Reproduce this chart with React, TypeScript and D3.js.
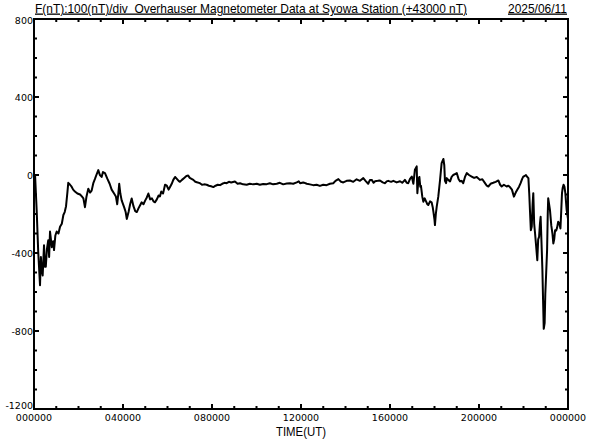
import { useRef, useEffect } from 'react'
import * as d3 from 'd3'

// F(nT) minus 43000, time in hours UT
const hours = [
  0.00, 0.05, 0.12, 0.19, 0.27, 0.31, 0.34, 0.39, 0.45, 0.49, 0.53, 0.58, 0.64, 0.68, 0.72, 0.80, 0.86, 0.90, 0.96, 1.02,
  1.10, 1.17, 1.25, 1.32, 1.38, 1.44, 1.50, 1.54, 1.62, 1.69, 1.76, 1.84, 1.95, 2.07, 2.15, 2.22, 2.29, 2.36, 2.44, 2.52,
  2.59, 2.67, 2.74, 2.82, 2.89, 2.96, 3.04, 3.10, 3.19, 3.30, 3.40, 3.49, 3.60, 3.68, 3.74, 3.79, 3.83, 3.88, 3.94, 4.05,
  4.12, 4.17, 4.25, 4.32, 4.39, 4.47, 4.55, 4.62, 4.70, 4.77, 4.84, 4.92, 5.00, 5.07, 5.14, 5.22, 5.30, 5.37, 5.44, 5.52,
  5.60, 5.66, 5.72, 5.80, 5.89, 5.97, 6.05, 6.12, 6.19, 6.26, 6.34, 6.42, 6.50, 6.56, 6.65, 6.75, 6.85, 6.93, 7.00, 7.08,
  7.16, 7.25, 7.35, 7.46, 7.55, 7.65, 7.76, 7.86, 7.96, 8.06, 8.16, 8.26, 8.36, 8.46, 8.56, 8.66, 8.76, 8.86, 9.03, 9.15,
  9.26, 9.40, 9.56, 9.70, 9.85, 10.01, 10.15, 10.30, 10.46, 10.60, 10.75, 10.91, 11.05, 11.20, 11.36, 11.50, 11.65, 11.81, 11.90, 11.96,
  12.10, 12.26, 12.40, 12.55, 12.70, 12.85, 13.00, 13.15, 13.30, 13.45, 13.55, 13.68, 13.80, 13.90, 14.05, 14.20, 14.35, 14.50, 14.65, 14.80,
  14.90, 15.02, 15.10, 15.18, 15.26, 15.33, 15.45, 15.55, 15.67, 15.78, 15.85, 15.92, 16.05, 16.15, 16.30, 16.45, 16.55, 16.67, 16.75, 16.82,
  16.90, 16.98, 17.05, 17.12, 17.20, 17.23, 17.28, 17.32, 17.36, 17.39, 17.45, 17.50, 17.56, 17.62, 17.68, 17.72, 17.80, 17.87, 17.92, 17.95,
  18.00, 18.02, 18.06, 18.10, 18.17, 18.25, 18.32, 18.40, 18.44, 18.47, 18.52, 18.55, 18.62, 18.70, 18.77, 18.84, 18.92, 19.00, 19.08, 19.15,
  19.22, 19.29, 19.37, 19.45, 19.55, 19.67, 19.78, 19.90, 20.04, 20.15, 20.27, 20.35, 20.42, 20.52, 20.64, 20.75, 20.87, 20.95, 21.02, 21.12,
  21.24, 21.32, 21.39, 21.48, 21.57, 21.65, 21.72, 21.80, 21.87, 21.94, 21.99, 22.05, 22.11, 22.17, 22.22, 22.26, 22.29, 22.33, 22.37, 22.41,
  22.44, 22.48, 22.52, 22.57, 22.62, 22.66, 22.70, 22.74, 22.77, 22.81, 22.85, 22.88, 22.91, 22.95, 22.98, 23.02, 23.06, 23.09, 23.11, 23.15,
  23.19, 23.25, 23.30, 23.34, 23.38, 23.42, 23.47, 23.51, 23.56, 23.61, 23.66, 23.69, 23.73, 23.76, 23.80, 23.84, 23.88, 23.94, 24.00,
]
const fieldNT = [
  0, -5, -180, -395, -565, -420, -480, -515, -360, -470, -470, -380, -335, -420, -290, -370, -340, -385, -310, -290,
  -300, -265, -250, -205, -190, -160, -90, -40, -50, -60, -75, -85, -95, -100, -110, -120, -165, -110, -70, -90,
  -80, -40, -20, 5, 25, 0, -10, 15, 10, -20, -45, -75, -95, -110, -150, -95, -45, -95, -130, -165,
  -190, -225, -190, -150, -120, -160, -185, -190, -170, -155, -140, -150, -130, -115, -95, -125, -120, -135, -140, -125,
  -105, -110, -85, -95, -50, -55, -75, -60, -45, -25, -10, -20, -30, -35, -25, -15, -5, -3, -15, -20,
  -25, -35, -38, -42, -50, -48, -50, -55, -58, -62, -55, -50, -52, -45, -40, -42, -35, -38, -33, -45,
  -42, -48, -50, -45, -48, -45, -50, -46, -47, -42, -48, -45, -40, -48, -44, -42, -45, -38, -32, -42,
  -38, -45, -48, -52, -50, -56, -50, -52, -45, -42, -30, -21, -35, -38, -30, -28, -35, -22, -30, -16,
  -30, -45, -25, -25, -40, -32, -30, -28, -38, -42, -33, -30, -35, -30, -38, -32, -40, -25, -40, -42,
  -20, -8, -45, 27, 44, -93, -20, -10, -60, -55, -110, -137, -120, -135, -150, -154, -135, -140, -165, -188,
  -230, -257, -200, -162, -111, -25, 61, 82, 50, -30, -42, -16, -25, -33, -10, 0, 5, 10, -20, -33,
  -30, -42, -10, 10, 0, -8, -15, -10, -25, -22, -42, -55, -59, -45, -40, -35, -28, -50, -59, -50,
  -59, -55, -62, -75, -111, -90, -76, -60, -42, -20, -8, -5, 0, -10, -16, -100, -180, -283, -265, -150,
  -93, -250, -300, -368, -437, -330, -317, -248, -214, -350, -489, -643, -789, -760, -609, -500, -386, -200, -119, -150,
  -180, -260, -300, -351, -330, -283, -285, -270, -240, -248, -274, -200, -93, -67, -50, -60, -93, -180, -225,
]

const yTickValues = [800, 400, 0, -400, -800, -1200]
const xTickValues = [0, 4, 8, 12, 16, 20, 24]
const xTickLabels = ['000000', '040000', '080000', '120000', '160000', '200000', '000000']
const titleText = 'F(nT):100(nT)/div  Overhauser Magnetometer Data at Syowa Station (+43000 nT)'
const dateText = '2025/06/11'
const xTitle = 'TIME(UT)'

export default function App() {
  const svgRef = useRef<SVGSVGElement>(null)

  useEffect(() => {
    const w = 592
    const h = 440
    const svg = d3.select(svgRef.current)
      .attr('width', w)
      .attr('height', h)
    svg.selectAll('*').remove()

    svg.append('rect').attr('width', w).attr('height', h).attr('fill', '#fff')

    // scaling
    const xScale = d3.scaleLinear().domain([0, 24]).range([34, 568])
    const yScale = d3.scaleLinear().domain([-1200, 800]).range([409, 19])
    const [x0, x1] = xScale.range()
    const [yb, yt] = yScale.range()

    const minorX = d3.range(0, 25, 1)
    const minorY = d3.range(-1200, 801, 100)

    // frame
    svg.append('rect')
      .attr('x', x0).attr('y', yt)
      .attr('width', x1 - x0).attr('height', yb - yt)
      .attr('fill', 'none').attr('stroke', '#000').attr('stroke-width', 2)

    // ticks: every side inward, long at labelled values
    const tickG = svg.append('g').attr('stroke', '#000').attr('stroke-width', 2)
    minorX.forEach(t => {
      const len = t % 4 === 0 ? 5 : 3
      const px = xScale(t)
      tickG.append('line').attr('x1', px).attr('x2', px).attr('y1', yb).attr('y2', yb - len)
      tickG.append('line').attr('x1', px).attr('x2', px).attr('y1', yt).attr('y2', yt + len)
    })
    minorY.forEach(v => {
      const len = v % 400 === 0 ? 5 : 3
      const py = yScale(v)
      tickG.append('line').attr('x1', x0).attr('x2', x0 + len).attr('y1', py).attr('y2', py)
      tickG.append('line').attr('x1', x1).attr('x2', x1 - len).attr('y1', py).attr('y2', py)
    })

    // tick labels
    svg.append('g')
      .selectAll('text')
      .data(yTickValues)
      .join('text')
        .attr('x', x0 - 1)
        .attr('y', d => Math.min(Math.max(yScale(d) + 3.5, 24), yb))
        .attr('text-anchor', 'end')
        .attr('font-family', 'DejaVu Sans')
        .attr('font-size', 9.5)
        .attr('fill', '#000')
        .text(d => String(d))

    svg.append('g')
      .selectAll('text')
      .data(xTickValues)
      .join('text')
        .attr('x', d => xScale(d))
        .attr('y', 421)
        .attr('text-anchor', 'middle')
        .attr('font-family', 'DejaVu Sans')
        .attr('font-size', 9.5)
        .attr('fill', '#000')
        .text((d, i) => xTickLabels[i])

    // titles
    svg.append('text')
      .attr('x', (x0 + x1) / 2).attr('y', 436)
      .attr('text-anchor', 'middle')
      .attr('font-family', 'Liberation Sans, Arial, sans-serif')
      .attr('font-size', 12.5)
      .attr('textLength', 50).attr('lengthAdjust', 'spacingAndGlyphs')
      .text(xTitle)

    svg.append('text')
      .attr('x', 35).attr('y', 12.5)
      .attr('font-family', 'Liberation Sans, Arial, sans-serif')
      .attr('font-size', 13)
      .attr('textLength', 432).attr('lengthAdjust', 'spacingAndGlyphs')
      .style('text-decoration', 'underline')
      .style('white-space', 'pre')
      .text(titleText)

    svg.append('text')
      .attr('x', 567).attr('y', 12.5)
      .attr('text-anchor', 'end')
      .attr('font-family', 'Liberation Sans, Arial, sans-serif')
      .attr('font-size', 13)
      .attr('textLength', 59).attr('lengthAdjust', 'spacingAndGlyphs')
      .style('text-decoration', 'underline')
      .text(dateText)

    // data
    const line = d3.line<number>()
      .x((d, i) => xScale(hours[i]))
      .y(d => yScale(d))

    svg.append('path')
      .datum(fieldNT)
      .attr('d', line)
      .attr('fill', 'none')
      .attr('stroke', '#000')
      .attr('stroke-width', 2)
      .attr('stroke-linejoin', 'round')
  }, [])

  return (
    <svg ref={svgRef} style={{ position: 'absolute', left: 0, top: 0 }}></svg>
  )
}
